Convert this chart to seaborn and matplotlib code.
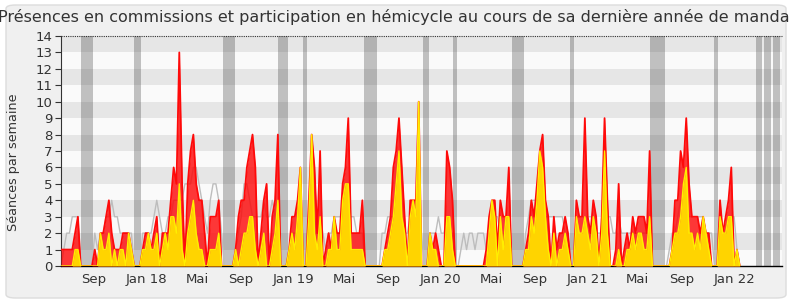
import numpy as np
import pandas as pd
import matplotlib
matplotlib.use("Agg")
import matplotlib.pyplot as plt
import seaborn as sns
from matplotlib.patches import FancyBboxPatch

# ---------------- data (one value per week) ----------------
presence = [
    1, 1, 1, 1, 1, 2, 3, 0, 0, 0,
    0, 0, 1, 0, 2, 2, 3, 4, 2, 1,
    1, 1, 2, 2, 2, 1, 0, 0, 0, 1,
    2, 2, 1, 2, 3, 0, 2, 2, 2, 4,
    6, 5, 13, 5, 0, 5, 7, 8, 5, 4,
    4, 2, 0, 3, 3, 3, 4, 0, 0, 0,
    0, 0, 1, 3, 4, 4, 6, 7, 8, 6,
    0, 2, 4, 5, 0, 3, 4, 8, 0, 0,
    0, 1, 3, 3, 4, 6, 0, 0, 4, 8,
    6, 2, 7, 0, 1, 2, 1, 3, 2, 2,
    5, 6, 9, 2, 2, 2, 2, 4, 0, 0,
    0, 0, 0, 0, 0, 1, 2, 3, 6, 7,
    9, 6, 3, 0, 4, 4, 4, 10, 0, 0,
    0, 2, 1, 2, 1, 0, 0, 7, 6, 4,
    0, 0, 0, 0, 0, 0, 0, 0, 0, 0,
    0, 1, 3, 4, 4, 1, 4, 3, 3, 6,
    0, 0, 0, 0, 0, 1, 2, 4, 3, 5,
    7, 8, 4, 3, 0, 3, 1, 2, 2, 3,
    2, 0, 0, 4, 3, 3, 9, 3, 2, 4,
    3, 0, 3, 9, 4, 0, 0, 1, 5, 0,
    1, 2, 1, 3, 2, 3, 3, 3, 2, 7,
    0, 0, 0, 0, 0, 0, 0, 1, 4, 4,
    7, 6, 9, 5, 3, 3, 3, 2, 3, 2,
    2, 0, 0, 0, 4, 2, 3, 4, 6, 0,
    1, 0,
]
hemicycle = [
    0, 0, 0, 0, 0, 1, 1, 0, 0, 0,
    0, 0, 0, 0, 2, 1, 1, 2, 0, 1,
    0, 1, 1, 0, 2, 1, 0, 0, 0, 1,
    1, 2, 1, 1, 2, 0, 1, 2, 1, 3,
    3, 2, 5, 1, 0, 2, 3, 4, 2, 1,
    1, 0, 0, 1, 1, 1, 2, 0, 0, 0,
    0, 0, 1, 0, 1, 2, 2, 3, 3, 1,
    0, 1, 2, 0, 0, 1, 2, 4, 0, 0,
    0, 1, 2, 1, 3, 6, 0, 0, 3, 8,
    2, 1, 3, 0, 0, 1, 1, 3, 1, 1,
    4, 5, 5, 1, 1, 1, 1, 1, 0, 0,
    0, 0, 0, 0, 0, 1, 1, 2, 3, 5,
    7, 3, 2, 0, 3, 4, 3, 10, 0, 0,
    0, 2, 1, 1, 0, 0, 0, 3, 3, 1,
    0, 0, 0, 0, 0, 0, 0, 0, 0, 0,
    0, 0, 2, 4, 3, 0, 3, 1, 3, 3,
    0, 0, 0, 0, 0, 1, 1, 3, 2, 4,
    7, 6, 3, 1, 0, 2, 0, 1, 1, 2,
    1, 0, 0, 3, 2, 2, 3, 2, 1, 3,
    2, 0, 2, 7, 2, 0, 0, 0, 1, 0,
    0, 1, 1, 2, 1, 2, 2, 1, 1, 3,
    0, 0, 0, 0, 0, 0, 0, 1, 2, 2,
    3, 5, 6, 2, 2, 1, 2, 1, 3, 2,
    1, 0, 0, 0, 3, 2, 2, 3, 3, 0,
    1, 0,
]
mediane = [
    0, 1, 2, 2, 3, 3, 3, 0, 0, 0,
    0, 0, 2, 1, 2, 2, 3, 3, 4, 3,
    3, 2, 2, 2, 2, 2, 0, 0, 0, 2,
    2, 2, 2, 3, 4, 3, 2, 2, 3, 3,
    4, 4, 4, 4, 5, 5, 5, 6, 6, 5,
    4, 3, 2, 4, 5, 5, 4, 2, 0, 0,
    0, 0, 1, 2, 3, 5, 5, 4, 3, 3,
    3, 3, 4, 3, 3, 4, 3, 2, 0, 0,
    0, 1, 2, 2, 2, 3, 0, 0, 3, 3,
    3, 2, 3, 2, 1, 2, 2, 3, 3, 3,
    3, 3, 3, 3, 3, 2, 2, 2, 0, 0,
    0, 0, 0, 0, 2, 2, 3, 3, 3, 3,
    3, 3, 2, 2, 3, 3, 3, 3, 2, 0,
    0, 2, 2, 2, 3, 2, 2, 3, 2, 2,
    0, 0, 1, 2, 1, 2, 2, 1, 2, 2,
    2, 1, 2, 2, 3, 3, 2, 2, 1, 1,
    0, 0, 0, 0, 0, 2, 3, 4, 4, 4,
    4, 3, 3, 3, 3, 3, 3, 3, 3, 2,
    2, 0, 0, 3, 3, 3, 3, 3, 3, 3,
    2, 2, 2, 3, 3, 3, 2, 2, 3, 2,
    2, 2, 2, 2, 2, 2, 2, 2, 2, 2,
    0, 0, 0, 0, 0, 0, 1, 2, 2, 3,
    4, 4, 4, 3, 3, 3, 3, 3, 3, 2,
    2, 2, 0, 0, 2, 2, 2, 2, 3, 3,
    1, 0,
]
month_labels = ["Sep", "Jan 18", "Mai", "Sep", "Jan 19", "Mai", "Sep",
                "Jan 20", "Mai", "Sep", "Jan 21", "Mai", "Sep", "Jan 22"]
month_weeks = [11.7, 30.4, 48.3, 63.9, 82.5, 100.5, 116.1,
               134.6, 152.7, 168.1, 187.0, 204.8, 220.3, 239.0]
vacances = [(7.1, 11.4), (25.9, 28.4), (57.5, 61.8), (77.1, 80.6), (85.9, 87.4),
            (107.6, 112.2), (128.6, 130.7), (139.2, 140.6), (160.2, 164.4),
            (180.8, 182.2), (209.2, 214.5), (231.9, 233.3), (246.8, 248.9),
            (249.6, 252.1), (252.8, 255.3)]
n_weeks_axis = 256

title = ("Présences en commissions et participation en hémicycle au cours "
         "de sa dernière année de mandat")

# ---------------- figure ----------------
sns.set_theme(style="white")
plt.rcParams['font.family'] = ['DejaVu Sans']

W, H = 790, 300
fig = plt.figure(figsize=(W / 100, H / 100), dpi=100, facecolor="white")
frame = FancyBboxPatch((6 / W, 2 / H), 780 / W, 293 / H,
                       boxstyle="round,pad=0,rounding_size=0.012",
                       transform=fig.transFigure, facecolor="#f0f0f0",
                       edgecolor="#dcdcdc", lw=1.0, zorder=-10)
fig.patches.append(frame)

ax = fig.add_axes([61 / W, 34 / H, 721 / W, 230 / H])
ax.set_zorder(5)
ax.set_facecolor("#fafafa")

df = pd.DataFrame({"semaine": np.arange(len(presence)),
                   "presence": presence,
                   "hemicycle": hemicycle,
                   "mediane": mediane})

# horizontal bands
for k in range(14):
    ax.axhspan(k, k + 1, color="#fafafa" if k % 2 == 0 else "#e6e6e6", lw=0, zorder=0)
# holidays
for a, b in vacances:
    ax.axvspan(a, b, color="#3a3a3a", alpha=0.3, lw=0, zorder=1)

# median line
sns.lineplot(data=df, x="semaine", y="mediane", ax=ax, color="#bdbdbd",
             lw=1.0, zorder=2)
# red area
ax.fill_between(df["semaine"], df["presence"], color="#ff0000", alpha=0.78,
                lw=0, zorder=3)
sns.lineplot(data=df, x="semaine", y="presence", ax=ax, color="#ff0a0a",
             lw=1.3, zorder=4)
# yellow area
ax.fill_between(df["semaine"], df["hemicycle"], color="#ffd400", lw=0, zorder=5)
sns.lineplot(data=df, x="semaine", y="hemicycle", ax=ax, color="#ffee00",
             lw=1.0, zorder=6)

ax.set_xlim(0, n_weeks_axis)
ax.set_ylim(0, 14)
ax.set_yticks(range(15))
ax.set_yticklabels([str(i) for i in range(15)])
ax.set_xticks(month_weeks)
ax.set_xticklabels(month_labels)
ax.tick_params(axis="y", length=4, width=0.8, color="#333333", labelsize=9.5,
               labelcolor="#333333", pad=2, left=True)
ax.tick_params(axis="x", length=0, labelsize=9.5, labelcolor="#333333", pad=5)
ax.set_xlabel("")
ax.set_ylabel("Séances par semaine", fontsize=9.2, color="#333333")
ax.yaxis.set_label_coords(-0.057, 0.45)

for s in ["top", "right"]:
    ax.spines[s].set_visible(False)
ax.spines["left"].set_color("#333333")
ax.spines["left"].set_linewidth(0.8)
ax.spines["bottom"].set_color("#000000")
ax.spines["bottom"].set_linewidth(1.0)
ax.axhline(14, color="#333333", ls=(0, (1, 1)), lw=0.8, zorder=7, clip_on=False)

fig.text(397 / W, 1 - 17 / H, title, ha="center", va="center",
         fontsize=11.5, color="#333333")

fig.savefig("out.png", dpi=100, facecolor="white")
